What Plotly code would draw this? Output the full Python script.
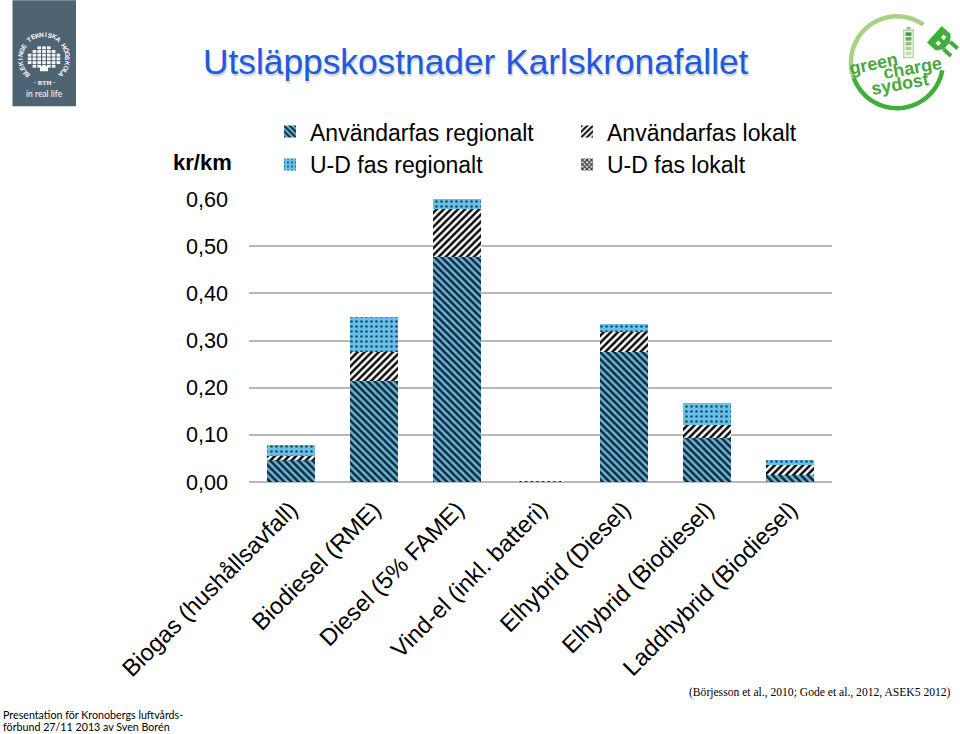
import math
import plotly.graph_objects as go

categories = ["Biogas (hushållsavfall)", "Biodiesel (RME)", "Diesel (5% FAME)", "Vind-el (inkl. batteri)",
              "Elhybrid (Diesel)", "Elhybrid (Biodiesel)", "Laddhybrid (Biodiesel)"]
anv_regionalt = [0.046, 0.215, 0.478, 0.0, 0.275, 0.0935, 0.0145]
anv_lokalt = [0.010, 0.060, 0.100, 0.0, 0.043, 0.0265, 0.0225]
ud_regionalt = [0.023, 0.074, 0.023, 0.0, 0.017, 0.048, 0.009]
ud_lokalt = [0.0, 0.0, 0.0, 0.001, 0.0, 0.0, 0.0]

W, H = 960, 734
L, R, T, B = 249, 832, 199, 482.5
GREY = "#b8b8b8"

def px(x): return (x - L) / (R - L)
def py(y): return (B - y) / (B - T)

fig = go.Figure()
series = [
    ("Användarfas regionalt", anv_regionalt, "\\", "#0c2a3e", "#6fb4d6", 5, 0.5, "legend"),
    ("Användarfas lokalt", anv_lokalt, "/", "#0a0a0a", "#ffffff", 5, 0.5, "legend2"),
    ("U-D fas regionalt", ud_regionalt, ".", "#17506e", "#68c0e8", 5, 0.22, "legend"),
    ("U-D fas lokalt", ud_lokalt, "x", "#222222", "#dddddd", 4, 0.5, "legend2"),
]
for name, vals, shape, fg, bg, size, sol, leg in series:
    fig.add_trace(go.Bar(
        x=categories, y=vals, name=name, width=0.575, legend=leg,
        marker=dict(color=bg, line_width=0,
                    pattern=dict(shape=shape, fgcolor=fg, bgcolor=bg, size=size, solidity=sol, fillmode="replace")),
    ))

shapes, annos = [], []

def rect(x0, y0, x1, y1, color):
    shapes.append(dict(type="rect", xref="paper", yref="paper", x0=px(x0), x1=px(x1), y0=py(y0), y1=py(y1),
                       fillcolor=color, line_width=0, layer="above"))

def text(x, y, s, size, color="#000000", family="Liberation Sans", angle=0, xa="center", ya="middle", shadow=None, bold=False):
    if bold:
        s = "<b>" + s + "</b>"
    f = dict(size=size, color=color, family=family)
    if shadow:
        f["shadow"] = shadow
    annos.append(dict(x=px(x), y=py(y), xref="paper", yref="paper", text=s, showarrow=False, font=f,
                      textangle=angle, xanchor=xa, yanchor=ya, borderpad=0, borderwidth=0))

def poly(points, fill=None, line=None, width=0, close=True):
    d = "M" + " L".join(f"{px(x):.5f},{py(y):.5f}" for x, y in points) + (" Z" if close else "")
    s = dict(type="path", xref="paper", yref="paper", path=d, layer="above")
    s["fillcolor"] = fill if fill else "rgba(0,0,0,0)"
    s["line"] = dict(color=line, width=width) if line else dict(width=0)
    shapes.append(s)

# Titles and notes
text(475.5, 61.5, "Utsläppskostnader Karlskronafallet", 35.3, color="#1c5be0", family="Liberation Sans",
     shadow="1px 2px 2px #c4c4c4")
text(202, 162, "kr/km", 22, bold=True)
text(3, 715, "Presentation för Kronobergs luftvårds-", 10.7, family="Lato", xa="left")
text(3, 727.5, "förbund 27/11 2013 av Sven Borén", 10.7, family="Lato", xa="left")
text(951, 693, "(Börjesson et al., 2010; Gode et al., 2012, ASEK5 2012)", 11.6, family="Liberation Serif", xa="right")

# BTH logo
rect(12.5, 0, 76, 106, "#4f6472")
cx, cy, rad = 44, 58, 24
arc = "BLEKINGE TEKNISKA HÖGSKOLA"
for i, ch in enumerate(arc):
    a = -135 + i * 270 / (len(arc) - 1)
    x = cx + rad * math.sin(math.radians(a))
    y = cy - rad * math.cos(math.radians(a))
    text(x, y, ch, 6.5, color="#ffffff", family="Liberation Sans", angle=a, bold=True)
text(44, 82.5, "· BTH ·", 6.5, color="#ffffff", family="Liberation Serif", bold=True)
text(44.5, 94, "in real life", 8.5, color="#ffffff", family="Lato")
for row, half in enumerate([1, 2, 3, 3, 3, 2]):
    for col in range(-half, half + 1):
        x = cx + col * 4.8
        y = 47.5 + row * 3.7
        rect(x - 1.8, y - 1.4, x + 1.8, y + 1.4, "#ffffff")
rect(40, 66, 48, 71, "#ffffff")

# Green Charge logo
gx, gy, gr = 897, 62, 46
light, dark = "#a9d183", "#3fae3a"
def arc_pts(a0, a1, n=50):
    return [(gx + gr * math.cos(math.radians(a0 + (a1 - a0) * i / n)),
             gy + gr * math.sin(math.radians(a0 + (a1 - a0) * i / n))) for i in range(n + 1)]
poly(arc_pts(-55, -200), line=light, width=4.5, close=False)
poly(arc_pts(-200, -350), line=dark, width=4.5, close=False)
text(873, 63.5, "green", 18, color="#49a83f", angle=-12, bold=True)
text(912, 68, "charge", 18, color="#49a83f", angle=-10, bold=True)
text(900, 84, "sydost", 18, color="#49a83f", angle=-10, bold=True)
# battery
rect(903, 29, 914, 58, "#b8d9a0")
rect(904.5, 31, 912.5, 56.5, "#ffffff")
rect(906.5, 26.5, 910.5, 29, "#8cc27a")
for i, c in enumerate(["#3a9a3a", "#5cae4f", "#8cc27a", "#a9d08f", "#c3deb0"]):
    rect(905.5, 32 + i * 4.8, 911.5, 35.6 + i * 4.8, c)
# plug
pc = "#3fae3a"
def rot(u, v):
    a = math.radians(42)
    return (941 + u * math.cos(a) - v * math.sin(a), 40 + u * math.sin(a) + v * math.cos(a))
poly([rot(*p) for p in [(-9, -11), (3, -11), (8, -5), (8, 5), (3, 11), (-9, 11)]], fill=pc)
poly([rot(*p) for p in [(8, -7), (18, -7), (18, -3), (8, -3)]], fill=pc)
poly([rot(*p) for p in [(8, 3), (18, 3), (18, 7), (8, 7)]], fill=pc)
poly([rot(*p) for p in [(-2, -6), (2, -6), (2, -2), (-2, -2)]], fill="#ffffff")
poly([rot(*p) for p in [(-2, 2), (2, 2), (2, 6), (-2, 6)]], fill="#ffffff")

fig.update_layout(
    width=W, height=H, barmode="stack", bargap=0.425, separators=", ",
    margin=dict(l=L, r=W - R, t=T, b=H - B, pad=0, autoexpand=False),
    paper_bgcolor="#ffffff", plot_bgcolor="#ffffff",
    font=dict(family="Liberation Sans", color="#000000", size=21),
    shapes=shapes, annotations=annos,
    legend=dict(x=px(270), y=py(110), xanchor="left", yanchor="top", font=dict(size=23),
                traceorder="normal", tracegroupgap=0, bgcolor="rgba(0,0,0,0)", itemclick=False),
    legend2=dict(x=px(567), y=py(110), xanchor="left", yanchor="top", font=dict(size=23),
                 traceorder="normal", tracegroupgap=0, bgcolor="rgba(0,0,0,0)", itemclick=False),
    xaxis=dict(type="category", tickangle=-45, tickfont=dict(size=23.6), showgrid=False, showline=False,
               ticks="", range=[-0.5, 6.5], ticklabelstandoff=8, automargin=False),
    yaxis=dict(range=[0, 0.6], dtick=0.1, tickformat=".2f", tickfont=dict(size=21.6), gridcolor=GREY, gridwidth=1.6,
               showline=False, zeroline=True, zerolinecolor=GREY, zerolinewidth=1.6, ticks="", ticklabelstandoff=20,
               automargin=False),
)
fig.write_html("out.html", post_script="document.body.style.margin='0';", config=dict(displayModeBar=False))
